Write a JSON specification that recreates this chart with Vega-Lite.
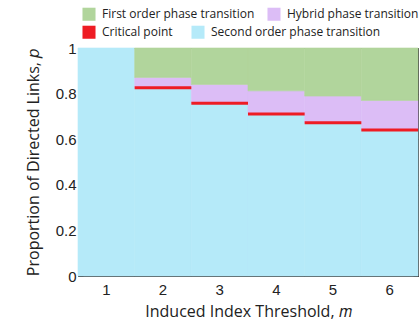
{
  "$schema": "https://vega.github.io/schema/vega-lite/v6.json",
  "width": 340,
  "height": 228,
  "autosize": "none",
  "padding": {"left": 78, "top": 48, "right": 1, "bottom": 47},
  "background": "white",
  "config": {
    "view": {"stroke": "#444", "strokeWidth": 1},
    "axis": {
      "labelFont": "Liberation Sans",
      "labelFontSize": 15,
      "labelColor": "#222",
      "titleFont": "Open Sans",
      "titleFontSize": 16,
      "titleFontWeight": "normal",
      "titleColor": "#222",
      "tickColor": "#333",
      "domainColor": "#444",
      "grid": false
    },
    "legend": {
      "labelFont": "Open Sans",
      "labelFontSize": 12,
      "labelColor": "#222",
      "labelLimit": 300
    }
  },
  "datasets": {
    "regions": [
      {"m": 1, "phase": "Second order phase transition", "lo": 0, "hi": 1},
      {"m": 2, "phase": "Second order phase transition", "lo": 0, "hi": 0.826},
      {"m": 2, "phase": "Hybrid phase transition", "lo": 0.826, "hi": 0.871},
      {"m": 2, "phase": "First order phase transition", "lo": 0.871, "hi": 1},
      {"m": 3, "phase": "Second order phase transition", "lo": 0, "hi": 0.758},
      {"m": 3, "phase": "Hybrid phase transition", "lo": 0.758, "hi": 0.840},
      {"m": 3, "phase": "First order phase transition", "lo": 0.840, "hi": 1},
      {"m": 4, "phase": "Second order phase transition", "lo": 0, "hi": 0.711},
      {"m": 4, "phase": "Hybrid phase transition", "lo": 0.711, "hi": 0.812},
      {"m": 4, "phase": "First order phase transition", "lo": 0.812, "hi": 1},
      {"m": 5, "phase": "Second order phase transition", "lo": 0, "hi": 0.672},
      {"m": 5, "phase": "Hybrid phase transition", "lo": 0.672, "hi": 0.789},
      {"m": 5, "phase": "First order phase transition", "lo": 0.789, "hi": 1},
      {"m": 6, "phase": "Second order phase transition", "lo": 0, "hi": 0.640},
      {"m": 6, "phase": "Hybrid phase transition", "lo": 0.640, "hi": 0.770},
      {"m": 6, "phase": "First order phase transition", "lo": 0.770, "hi": 1}
    ],
    "crit": [
      {"m": 2, "phase": "Critical point", "p": 0.826},
      {"m": 3, "phase": "Critical point", "p": 0.758},
      {"m": 4, "phase": "Critical point", "p": 0.711},
      {"m": 5, "phase": "Critical point", "p": 0.672},
      {"m": 6, "phase": "Critical point", "p": 0.640}
    ]
  },
  "layer": [
    {
      "data": {"name": "regions"},
      "mark": {"type": "bar", "strokeWidth": 0.6},
      "encoding": {
        "x": {
          "field": "m", "type": "ordinal",
          "scale": {"paddingInner": 0, "paddingOuter": 0},
          "axis": {"orient": "bottom", "labelAngle": 0, "tickSize": -5, "labelPadding": 11, "title": "Induced Index Threshold, 𝑚", "titlePadding": 6}
        },
        "y": {
          "field": "lo", "type": "quantitative",
          "scale": {"domain": [0, 1], "nice": false},
          "axis": {"orient": "left", "values": [0, 0.2, 0.4, 0.6, 0.8, 1], "format": "~g", "tickSize": -5, "labelPadding": 7, "title": "Proportion of Directed Links, 𝑝", "titlePadding": 14}
        },
        "y2": {"field": "hi"},
        "color": {
          "field": "phase", "type": "nominal",
          "scale": {
            "domain": ["First order phase transition", "Hybrid phase transition", "Second order phase transition"],
            "range": ["#b1d59c", "#dcbdf6", "#b5eaf9"]
          },
          "legend": {"orient": "none", "legendX": 4, "legendY": -41, "direction": "horizontal", "values": ["First order phase transition", "Hybrid phase transition"], "title": null, "symbolType": "square", "symbolSize": 170, "symbolStrokeWidth": 0, "columnPadding": 12, "labelOffset": 6, "padding": 0}
        },
        "stroke": {
          "field": "phase", "type": "nominal",
          "scale": {
            "domain": ["First order phase transition", "Hybrid phase transition", "Second order phase transition"],
            "range": ["#b1d59c", "#dcbdf6", "#b5eaf9"]
          },
          "legend": null
        }
      }
    },
    {
      "data": {"name": "crit"},
      "mark": {"type": "tick", "thickness": 3, "size": {"expr": "bandwidth('x')"}, "orient": "horizontal", "opacity": 1},
      "encoding": {
        "x": {"field": "m", "type": "ordinal", "axis": {"orient": "top", "labels": false, "tickSize": -5, "title": null, "domain": false}},
        "y": {"field": "p", "type": "quantitative", "axis": {"orient": "right", "labels": false, "tickSize": -5, "title": null, "domain": false, "values": [0, 0.2, 0.4, 0.6, 0.8, 1]}},
        "color": {
          "field": "phase", "type": "nominal",
          "scale": {
            "domain": ["Critical point", "Second order phase transition"],
            "range": ["#ee1c24", "#b5eaf9"]
          },
          "legend": {"orient": "none", "legendX": 4, "legendY": -23, "direction": "horizontal", "title": null, "symbolType": "square", "symbolSize": 170, "symbolStrokeWidth": 0, "symbolOpacity": 1, "columnPadding": 18, "labelOffset": 6, "padding": 0}
        }
      }
    }
  ],
  "resolve": {
    "axis": {"x": "independent", "y": "independent"},
    "scale": {"color": "independent"},
    "legend": {"color": "independent"}
  }
}
